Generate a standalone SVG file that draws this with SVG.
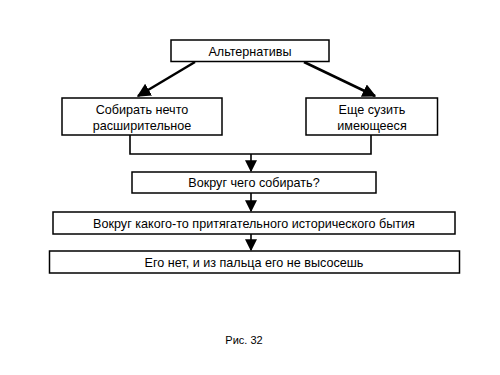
<svg xmlns="http://www.w3.org/2000/svg" width="500" height="375" viewBox="0 0 500 375">
<style>
.box{fill:#fff;stroke:#000;stroke-width:1.5}
.t{font-family:"Liberation Sans",Arial,sans-serif;font-size:12.6px;fill:#000;text-anchor:middle}
.c{fill:none;stroke:#000;stroke-width:1.6}
.a{fill:none;stroke:#000;stroke-width:2.5}
</style>
<defs>
<marker id="ah" viewBox="0 0 10 10" refX="9" refY="5" markerWidth="5.5" markerHeight="5.5" orient="auto" markerUnits="strokeWidth">
<path d="M0,0 L10,5 L0,10 z" fill="#000"/>
</marker>
<marker id="ah2" viewBox="0 0 10 10" refX="9" refY="5" markerWidth="7.5" markerHeight="7.5" orient="auto" markerUnits="strokeWidth">
<path d="M0,0 L10,5 L0,10 z" fill="#000"/>
</marker>
</defs>
<rect width="500" height="375" fill="#fff"/>
<g id="connectors">
<line class="a" x1="195" y1="62" x2="138" y2="96" marker-end="url(#ah)"/>
<line class="a" x1="304" y1="62" x2="375" y2="96" marker-end="url(#ah)"/>
<polyline class="c" points="130,135 130,154 371,154 371,135"/>
<line class="c" x1="251" y1="154" x2="251" y2="171" marker-end="url(#ah2)"/>
<line class="c" x1="251" y1="193" x2="251" y2="211" marker-end="url(#ah2)"/>
<line class="c" x1="251" y1="234" x2="251" y2="250" marker-end="url(#ah2)"/>
</g>
<g id="n1"><rect class="box" x="171" y="40" width="158" height="21.5"/><text class="t" x="250" y="55.5">Альтернативы</text></g>
<g id="n2"><rect class="box" x="62" y="98" width="160" height="37"/><text class="t" x="142" y="114">Собирать нечто</text><text class="t" x="142" y="129.5">расширительное</text></g>
<g id="n3"><rect class="box" x="306" y="98" width="131.5" height="37"/><text class="t" x="372" y="114">Еще сузить</text><text class="t" x="372" y="129.5">имеющееся</text></g>
<g id="n4"><rect class="box" x="132" y="172" width="244" height="21"/><text class="t" x="254" y="187">Вокруг чего собирать?</text></g>
<g id="n5"><rect class="box" x="53" y="212" width="402" height="22"/><text class="t" x="254" y="227.5">Вокруг какого-то притягательного исторического бытия</text></g>
<g id="n6"><rect class="box" x="49.5" y="251" width="410" height="22"/><text class="t" x="254" y="266.5">Его нет, и из пальца его не высосешь</text></g>
<text class="t" x="244" y="344" style="font-size:11px">Рис. 32</text>
</svg>
